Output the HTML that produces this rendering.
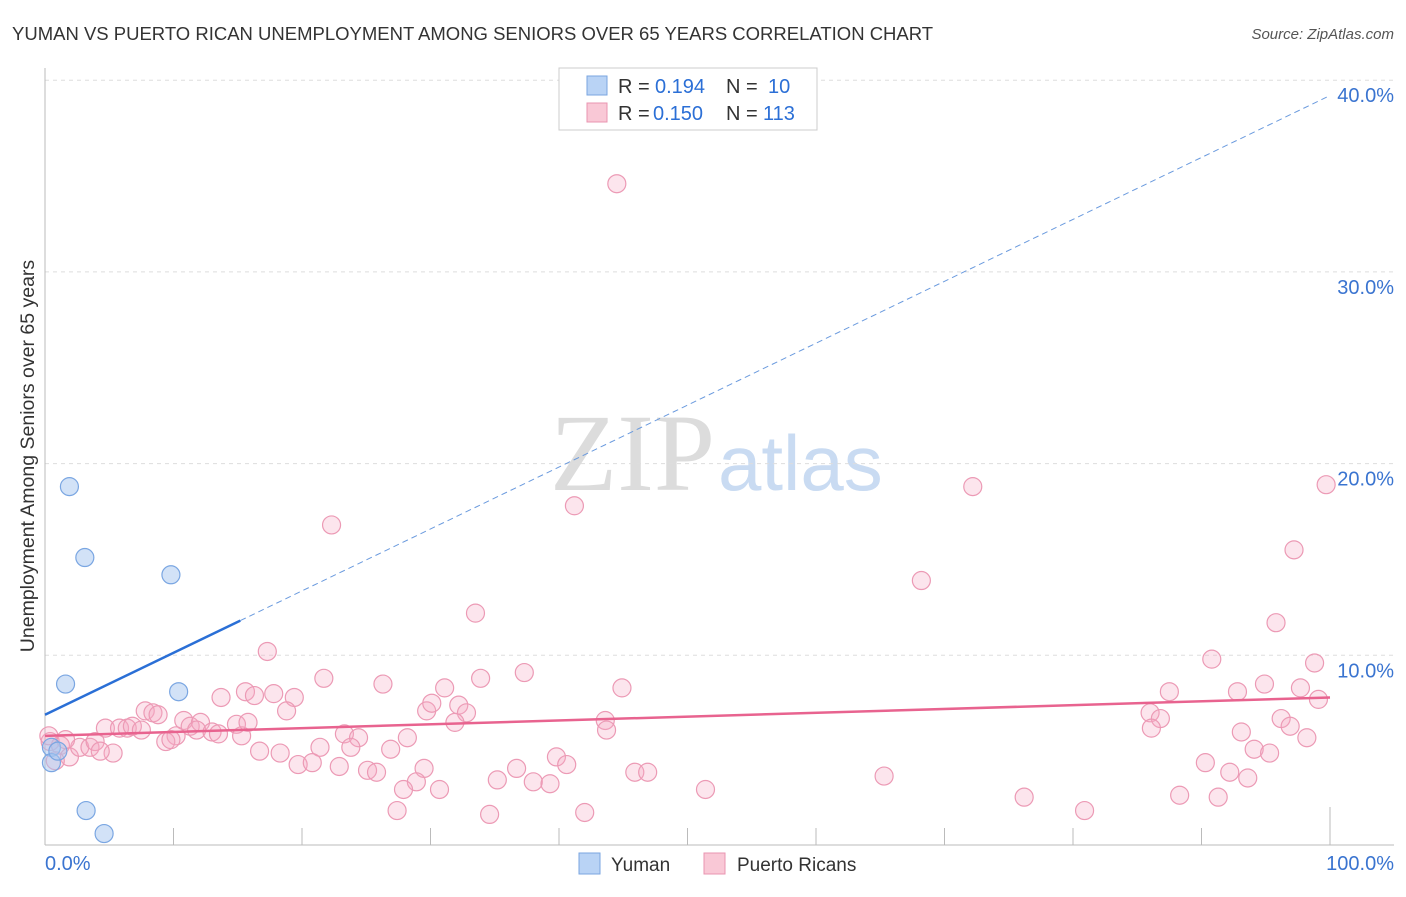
<!DOCTYPE html>
<html><head><meta charset="utf-8"><style>
body{margin:0;background:#fff;font-family:"Liberation Sans",sans-serif}
</style></head><body>
<svg width="1406" height="892" id="chart" xmlns="http://www.w3.org/2000/svg">
<text x="12" y="40" font-size="18.5" fill="#333">YUMAN VS PUERTO RICAN UNEMPLOYMENT AMONG SENIORS OVER 65 YEARS CORRELATION CHART</text>
<text x="1394" y="39" font-size="15" fill="#555" text-anchor="end" font-style="italic">Source: ZipAtlas.com</text>
<text x="715" y="490" font-size="110" fill="#dcdcdc" text-anchor="end" font-family="Liberation Serif,serif">ZIP</text>
<text x="718" y="490" font-size="78" fill="#c9dbf2">atlas</text>
<g id="grid"></g>
<g id="axes"></g>
<g id="pts"></g>
<g id="trend"></g>
<text transform="translate(34,456) rotate(-90)" font-size="19.5" fill="#333" text-anchor="middle">Unemployment Among Seniors over 65 years</text>
<g>
<rect x="559" y="68" width="258" height="62" fill="#fff" stroke="#ccc"/>
<rect x="587" y="76" width="20" height="19" fill="#b9d3f5" stroke="#7aa6e0"/>
<rect x="587" y="103" width="20" height="19" fill="#f9c8d6" stroke="#e994b0"/>
<text y="93" font-size="20" fill="#333"><tspan x="618">R = </tspan><tspan x="655" fill="#2b6fd6">0.194</tspan><tspan x="726">N = </tspan><tspan x="768" fill="#2b6fd6">10</tspan></text>
<text y="120" font-size="20" fill="#333"><tspan x="618">R = </tspan><tspan x="653" fill="#2b6fd6">0.150</tspan><tspan x="726">N = </tspan><tspan x="763" fill="#2b6fd6">113</tspan></text>
</g>
<g>
<rect x="579" y="853" width="21" height="21" fill="#b9d3f5" stroke="#7aa6e0"/>
<text x="611" y="871" font-size="19" fill="#333">Yuman</text>
<rect x="704" y="853" width="21" height="21" fill="#f9c8d6" stroke="#e994b0"/>
<text x="737" y="871" font-size="19" fill="#333">Puerto Ricans</text>
</g>
</svg>
<script>
const yTicks=[10,20,30,40];
const yTickLabels=["10.0%","20.0%","30.0%","40.0%"];
const xTicks=[0,10,20,30,40,50,60,70,80,90,100];
const blueX=[1.9,3.1,9.8,1.6,10.4,0.5,0.5,3.2,4.6,1.0];
const blueY=[18.8,15.1,14.2,8.5,8.1,5.2,4.4,1.9,0.7,5.0];
const pinkX=[44.5,22.3,41.2,72.2,99.7,68.2,97.2,33.5,95.8,17.3,90.8,98.8,21.7,33.9,37.3,44.9,26.3,31.1,87.5,92.8,94.9,97.7,99.1,13.7,15.6,16.3,17.8,19.4,18.8,7.8,8.4,8.8,29.7,30.1,32.2,32.8,31.9,86.0,86.8,86.1,96.2,96.9,93.1,98.2,94.1,95.3,43.6,43.7,4.7,5.8,6.4,6.8,7.5,10.8,11.3,12.1,11.8,13.0,13.5,14.9,15.3,15.8,10.2,9.4,9.8,23.3,24.4,28.2,26.9,23.8,21.4,16.7,18.3,19.7,20.8,22.9,25.1,25.8,29.5,28.9,27.9,30.7,27.4,34.6,35.2,36.7,38.0,39.3,39.8,40.6,42.0,45.9,46.9,51.4,65.3,76.2,80.9,88.3,90.3,91.3,92.2,93.6,0.4,1.2,1.9,2.7,3.5,3.9,5.3,0.8,1.6,4.3,0.3];
const pinkY=[34.6,16.8,17.8,18.8,18.9,13.9,15.5,12.2,11.7,10.2,9.8,9.6,8.8,8.8,9.1,8.3,8.5,8.3,8.1,8.1,8.5,8.3,7.7,7.8,8.1,7.9,8.0,7.8,7.1,7.1,7.0,6.9,7.1,7.5,7.4,7.0,6.5,7.0,6.7,6.2,6.7,6.3,6.0,5.7,5.1,4.9,6.6,6.1,6.2,6.2,6.2,6.3,6.1,6.6,6.3,6.5,6.1,6.0,5.9,6.4,5.8,6.5,5.8,5.5,5.6,5.9,5.7,5.7,5.1,5.2,5.2,5.0,4.9,4.3,4.4,4.2,4.0,3.9,4.1,3.4,3.0,3.0,1.9,1.7,3.5,4.1,3.4,3.3,4.7,4.3,1.8,3.9,3.9,3.0,3.7,2.6,1.9,2.7,4.4,2.6,3.9,3.6,5.5,5.3,4.7,5.2,5.2,5.5,4.9,4.5,5.6,5.0,5.8];
const blueTrend=[6.9,39.2];
const pinkTrend=[5.8,7.8];
const X=v=>45+v*12.85, Y=v=>847-v*19.17;
const NS="http://www.w3.org/2000/svg";
function mk(tag,attrs,parent){const e=document.createElementNS(NS,tag);for(const k in attrs)e.setAttribute(k,attrs[k]);document.getElementById(parent).appendChild(e);return e;}
yTicks.forEach((t,i)=>{
 const l=mk('line',{x1:45,x2:1394,y1:Y(t),y2:Y(t),stroke:'#ddd','stroke-dasharray':'4,4'},'grid');
 
 
 const tx=mk('text',{x:1394,y:Y(t)+22,'font-size':20,fill:'#3a74d0','text-anchor':'end'},'grid');
 tx.textContent=yTickLabels[i];
 
 
});
let a=mk('line',{x1:45,x2:45,y1:68,y2:845,stroke:'#bbb'},'axes');


a=mk('line',{x1:45,x2:1394,y1:845,y2:845,stroke:'#bbb'},'axes');


xTicks.forEach(t=>{
 const l=mk('line',{x1:X(t),x2:X(t),y1:t==100?807:828,y2:845,stroke:'#bbb'},'axes');
 
 
});
[[0,"0.0%",'start',45],[100,"100.0%",'end',1394]].forEach(d=>{
 const tx=mk('text',{x:d[3],y:870,'font-size':20,fill:'#3a74d0','text-anchor':d[2]},'axes');
 tx.textContent=d[1];
 
 
});
pinkX.forEach((v,i)=>{
 const c=mk('circle',{cx:X(v),cy:Y(pinkY[i]),r:9,fill:'rgba(245,170,196,0.3)',stroke:'#ec9ab5','stroke-width':1.2},'pts');
 
 
});
blueX.forEach((v,i)=>{
 const c=mk('circle',{cx:X(v),cy:Y(blueY[i]),r:9,fill:'rgba(165,198,240,0.5)',stroke:'#7aa6e2','stroke-width':1.2},'pts');
 
 
});
const bAt=x=>blueTrend[0]+(blueTrend[1]-blueTrend[0])*x/100;
let t=mk('line',{x1:X(0),y1:Y(bAt(0)),x2:X(15.2),y2:Y(bAt(15.2)),stroke:'#2a6fd6','stroke-width':2.5},'trend');


t=mk('line',{x1:X(15.2),y1:Y(bAt(15.2)),x2:X(100),y2:Y(bAt(100)),stroke:'#6a9ade','stroke-width':1,'stroke-dasharray':'6,4'},'trend');


t=mk('line',{x1:X(0),y1:Y(pinkTrend[0]),x2:X(100),y2:Y(pinkTrend[1]),stroke:'#e8638f','stroke-width':2.5},'trend');


</script>
</body></html>
